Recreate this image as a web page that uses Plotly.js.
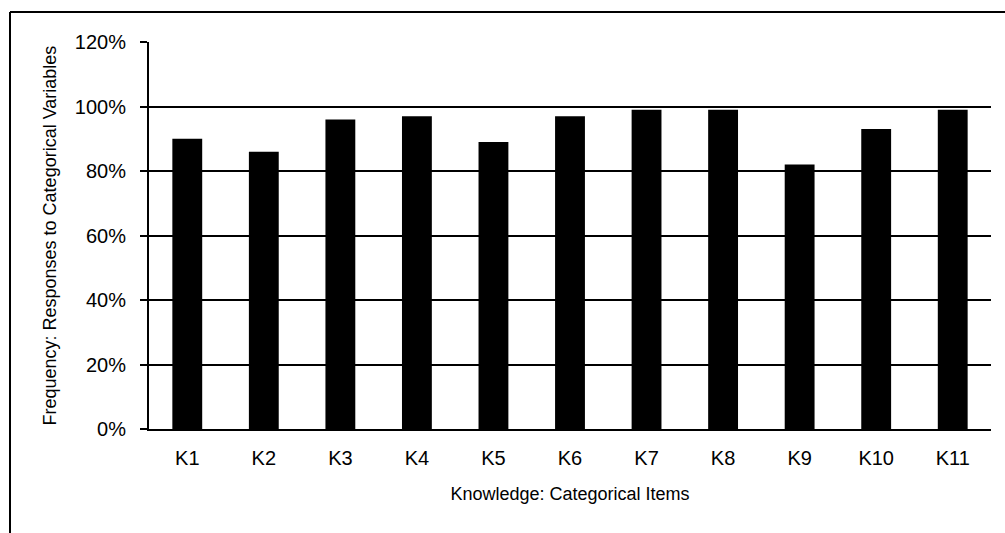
<!DOCTYPE html>
<html>
<head>
<meta charset="utf-8">
<script src="https://cdn.plot.ly/plotly-3.0.1.min.js"></script>
<style>
  html, body { margin: 0; padding: 0; background: #fff; }
  #chart { width: 1005px; height: 533px; }
</style>
</head>
<body>
<div id="chart"></div>
<script>
const categories = ["K1", "K2", "K3", "K4", "K5", "K6", "K7", "K8", "K9", "K10", "K11"];
const frequency = [0.90, 0.86, 0.96, 0.97, 0.89, 0.97, 0.99, 0.99, 0.82, 0.93, 0.99];
const yTickValues = [0, 0.2, 0.4, 0.6, 0.8, 1.0, 1.2];
const yTickLabels = ["0%", "20%", "40%", "60%", "80%", "100%", "120%"];

const fontFam = "Liberation Sans, Arial, sans-serif";

const trace = {
  type: "bar",
  x: categories,
  y: frequency,
  marker: { color: "#000000", line: { width: 0 } },
  hoverinfo: "x+y"
};

const layout = {
  width: 1005,
  height: 533,
  margin: { l: 149, r: 14, t: 42, b: 104, pad: 0 },
  paper_bgcolor: "#ffffff",
  plot_bgcolor: "#ffffff",
  showlegend: false,
  bargap: 0.61,
  font: { family: fontFam, color: "#000000" },
  xaxis: {
    type: "category",
    showgrid: false,
    showline: true,
    linecolor: "#000000",
    linewidth: 2,
    ticks: "",
    tickfont: { family: fontFam, size: 20, color: "#000000" },
    ticklabelstandoff: 10,
    title: { text: "Knowledge: Categorical Items", font: { family: fontFam, size: 18, color: "#000000" }, standoff: 19 }
  },
  yaxis: {
    range: [0, 1.2],
    tickvals: yTickValues,
    ticktext: yTickLabels,
    showgrid: true,
    gridcolor: "#000000",
    gridwidth: 2,
    zeroline: false,
    showline: true,
    linecolor: "#000000",
    linewidth: 2,
    ticks: "outside",
    ticklen: 7,
    tickwidth: 2,
    tickcolor: "#000000",
    tickfont: { family: fontFam, size: 20, color: "#000000" },
    ticklabelstandoff: 10,
    title: { text: "" }
  },
  annotations: [{
    text: "Frequency: Responses to Categorical Variables",
    textangle: -90,
    xref: "paper", yref: "paper",
    x: (49 - 149) / 842, y: 0.5,
    xanchor: "center", yanchor: "middle",
    showarrow: false,
    font: { family: fontFam, size: 18, color: "#000000" }
  }],
  shapes: [
    { type: "line", xref: "paper", yref: "paper",
      x0: (10 - 149) / 842, x1: 1.2, y0: (429 - 12) / 387, y1: (429 - 12) / 387,
      line: { color: "#000000", width: 2 } },
    { type: "line", xref: "paper", yref: "paper",
      x0: (10 - 149) / 842, x1: (10 - 149) / 842, y0: -0.4, y1: (429 - 12) / 387,
      line: { color: "#000000", width: 2 } }
  ]
};

Plotly.newPlot("chart", [trace], layout, { displayModeBar: false, staticPlot: true });
</script>
</body>
</html>
